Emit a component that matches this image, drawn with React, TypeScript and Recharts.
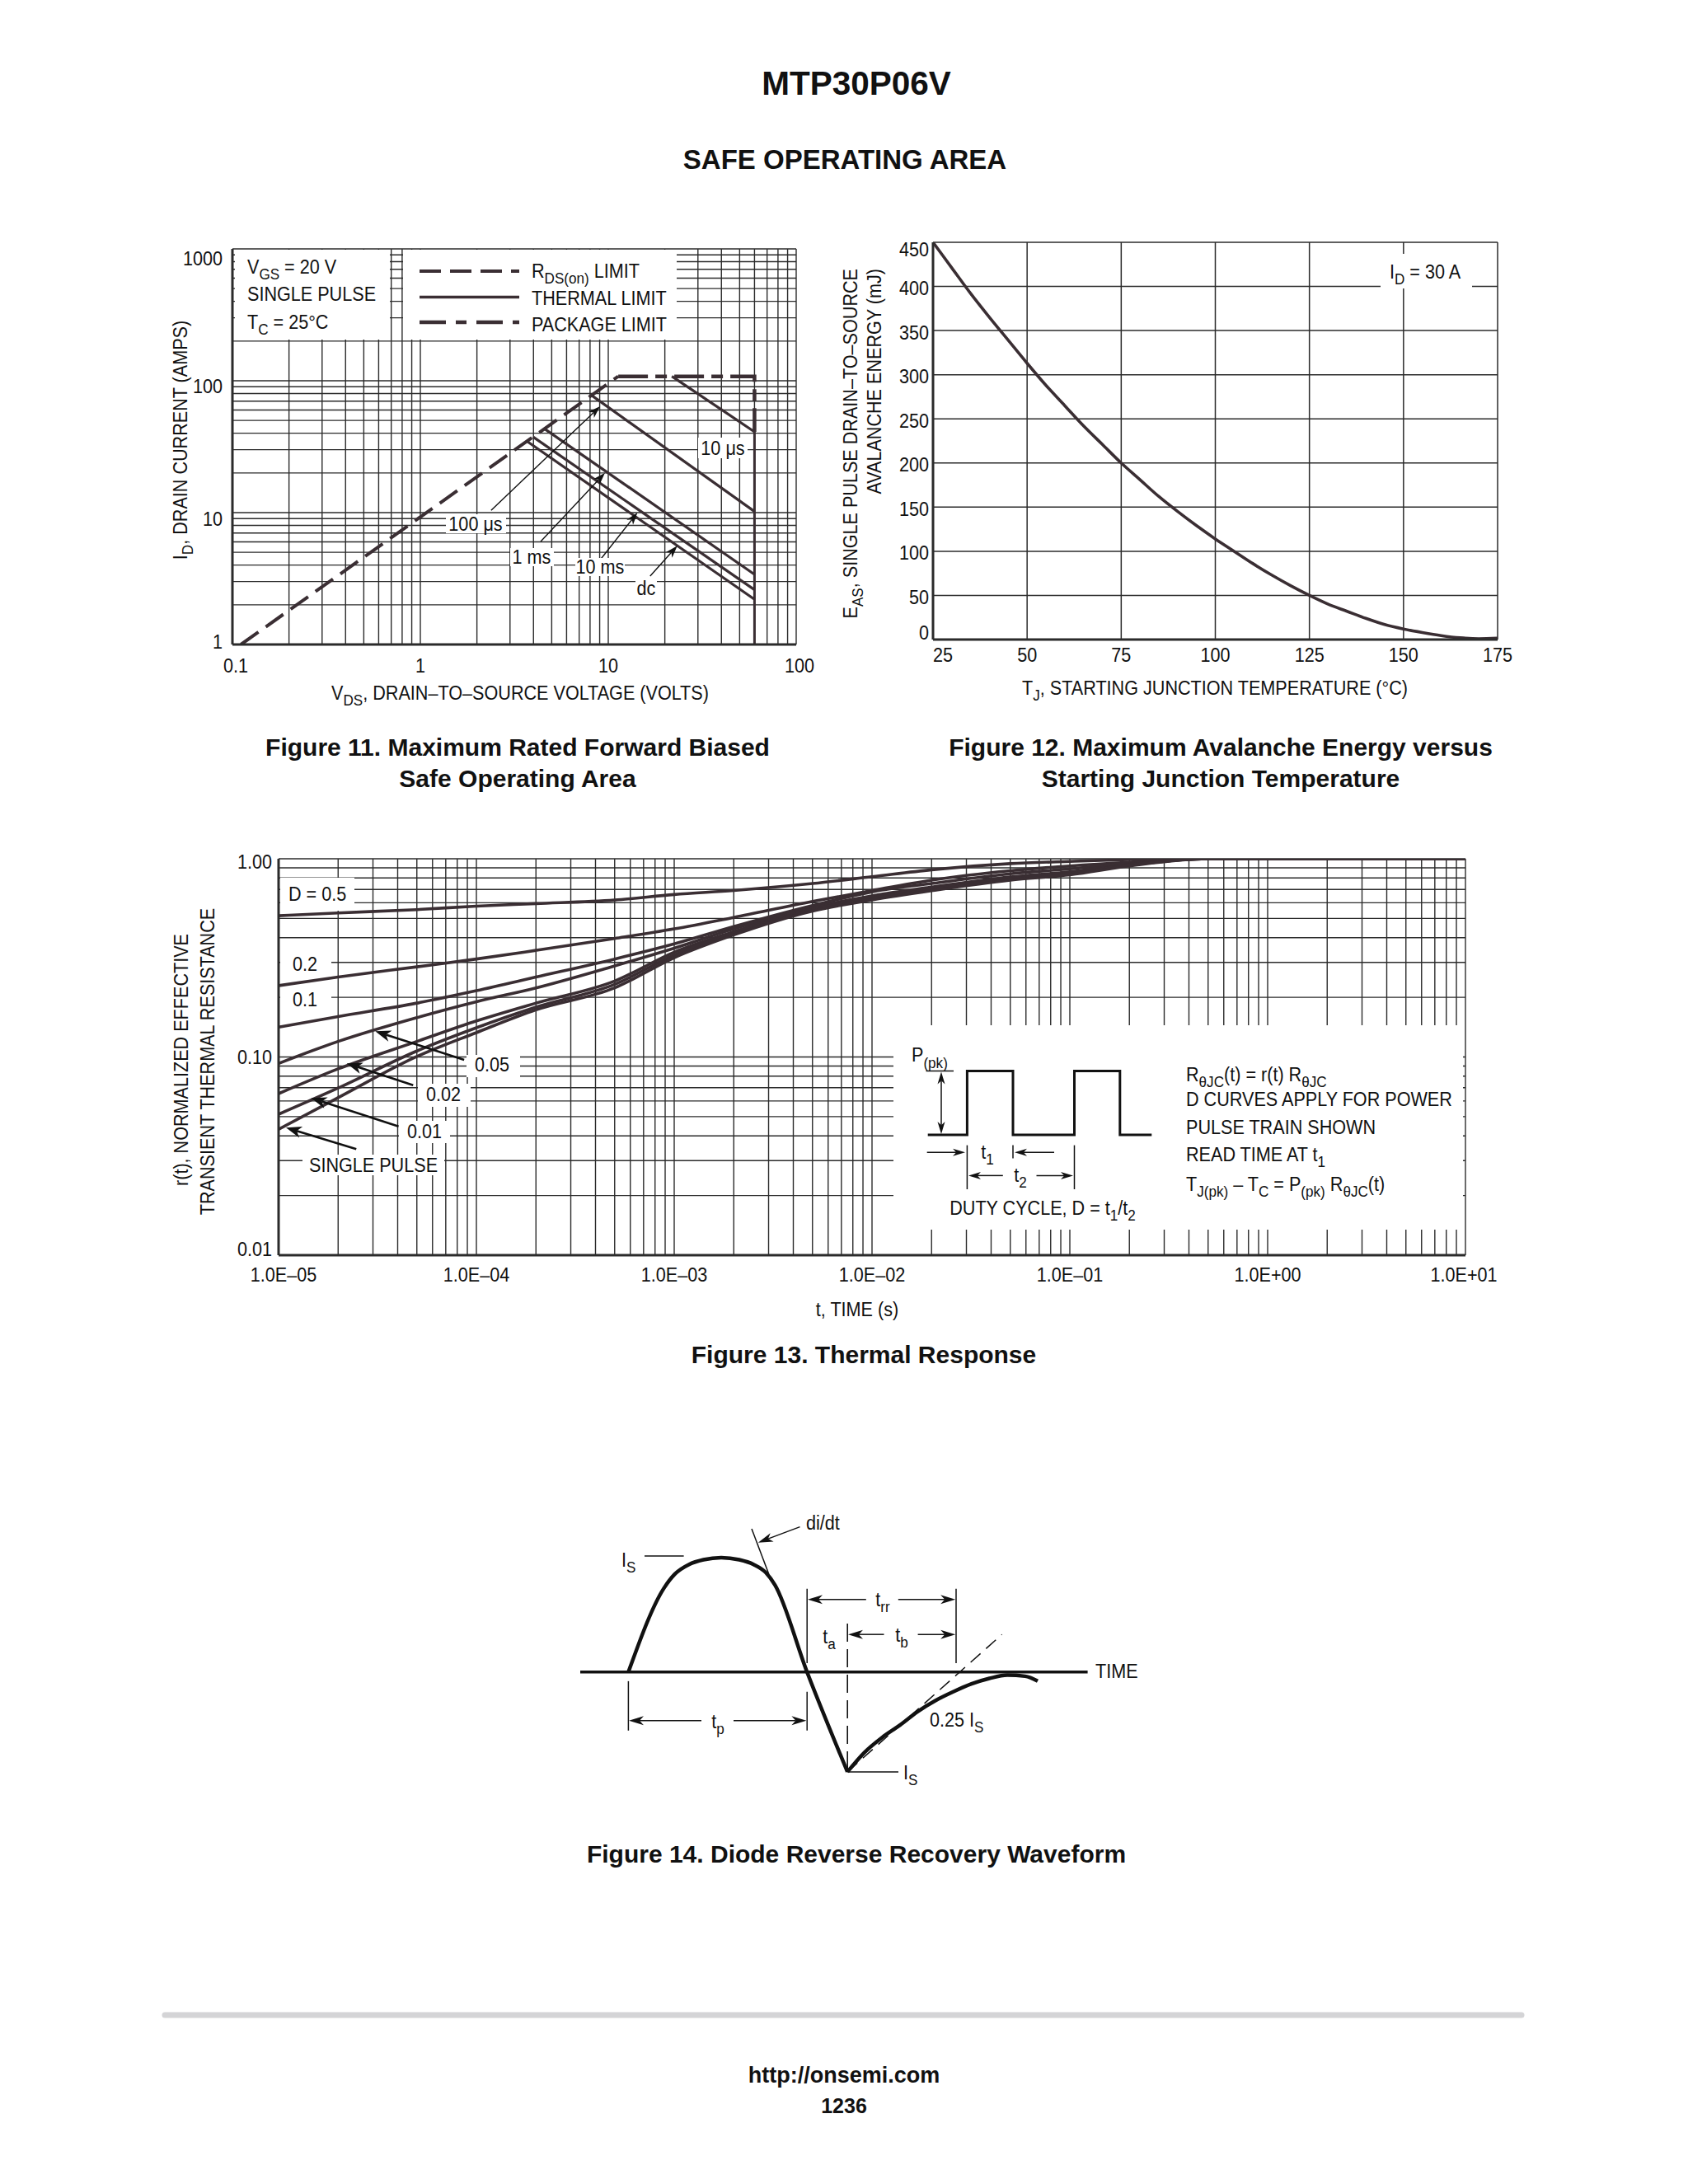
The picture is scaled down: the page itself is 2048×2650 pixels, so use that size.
import React from 'react';
import { LineChart, Line, XAxis, YAxis, ReferenceLine } from 'recharts';

const FONT = '"Liberation Sans", Arial, Helvetica, sans-serif';
const SX = 0.9; // datasheet type is a condensed grotesque
const INK = '#3a2e33';
const GRID = '#2b2b2b';
const TXT = '#111';

// ═══ Figure 11 — forward biased safe operating area ═══
const SOA_V_TICKS = [0.1, 1, 10, 100];
const SOA_V_LABELS = ['0.1', '1', '10', '100'];
const SOA_I_TICKS = [1, 10, 100, 1000];
const SOA_I_LABELS = ['1', '10', '100', '1000'];

const RDS_V = [0.111, 11.3];
const RDS_I = [1, 108];
const PKG_V = [11.3, 60, 60];
const PKG_I = [108, 108, 41];
const BV_V = [60, 60];
const BV_I = [41, 1];
const US10_V = [21.8, 60];
const US10_I = [108, 41];
const US100_V = [8.2, 60];
const US100_I = [77, 10.2];
const MS1_V = [4.55, 60];
const MS1_I = [43.5, 3.4];
const MS10_V = [3.98, 60];
const MS10_I = [37.5, 2.6];
const DC_V = [3.67, 60];
const DC_I = [35, 2.2];

const SOA_ARROWS = [
  { from: [2.38, 10.4], to: [9.05, 64] }, // 100 µs
  { from: [4.37, 6.04], to: [9.6, 20] }, // 1 ms
  { from: [9.15, 4.47], to: [14.3, 10] }, // 10 ms
  { from: [16.7, 3.3], to: [23.3, 5.6] }, // dc
];

// ═══ Figure 12 — avalanche energy ═══
const TJ = [25, 30, 35, 40, 45, 50, 55, 60, 65, 70, 75, 80, 85, 90, 95, 100, 105, 110, 115, 120, 125, 130, 135, 140, 145, 150, 155, 160, 165, 170, 175];
const EAS = [450, 421, 392, 365, 339, 313, 288, 265, 242, 221, 200, 181, 162, 145, 129, 114, 100, 86, 73, 61, 50, 40, 32, 24, 17, 12, 8, 4.5, 2, 1, 1.5];
const TJ_TICKS = [25, 50, 75, 100, 125, 150, 175];
const EAS_TICKS = [0, 50, 100, 150, 200, 250, 300, 350, 400, 450];

// ═══ Figure 13 — thermal response ═══
const T_S = [1e-5, 2e-5, 5e-5, 1e-4, 2e-4, 5e-4, 1e-3, 2e-3, 5e-3, 1e-2, 2e-2, 5e-2, 1e-1, 2e-1, 5e-1, 1, 10];
const R_D50 = [0.516, 0.533, 0.554, 0.577, 0.594, 0.619, 0.66, 0.692, 0.75, 0.812, 0.88, 0.945, 0.97, 0.99, 1, 1, 1];
const R_D20 = [0.229, 0.253, 0.285, 0.312, 0.345, 0.396, 0.443, 0.506, 0.609, 0.692, 0.78, 0.87, 0.92, 0.96, 1, 1, 1];
const R_D10 = [0.1415, 0.16, 0.187, 0.216, 0.253, 0.312, 0.372, 0.455, 0.581, 0.681, 0.75, 0.84, 0.89, 0.95, 1, 1, 1];
const R_D05 = [0.0928, 0.1198, 0.158, 0.19, 0.223, 0.288, 0.354, 0.443, 0.568, 0.65, 0.72, 0.81, 0.86, 0.94, 1, 1, 1];
const R_D02 = [0.0653, 0.0871, 0.1198, 0.152, 0.187, 0.2416, 0.338, 0.429, 0.563, 0.64, 0.71, 0.8, 0.85, 0.93, 1, 1, 1];
const R_D01 = [0.0514, 0.0697, 0.1072, 0.1405, 0.1785, 0.2326, 0.327, 0.422, 0.554, 0.63, 0.7, 0.79, 0.84, 0.93, 1, 1, 1];
const R_SP = [0.0432, 0.0623, 0.1005, 0.1327, 0.1729, 0.2232, 0.317, 0.413, 0.545, 0.62, 0.69, 0.78, 0.83, 0.92, 1, 1, 1];
const TH_T_TICKS = [1e-5, 1e-4, 1e-3, 1e-2, 1e-1, 1, 10];
const TH_T_LABELS = ['1.0E–05', '1.0E–04', '1.0E–03', '1.0E–02', '1.0E–01', '1.0E+00', '1.0E+01'];
const TH_R_TICKS = [0.01, 0.1, 1];
const TH_R_LABELS = ['0.01', '0.10', '1.00'];

const TH_ARROWS = [
  { from: [8.67e-5, 0.0968], to: [3.08e-5, 0.1349] }, // 0.05
  { from: [4.79e-5, 0.072], to: [2.21e-5, 0.0929] }, // 0.02
  { from: [4.04e-5, 0.0446], to: [1.46e-5, 0.0621] }, // 0.01
  { from: [2.47e-5, 0.0343], to: [1.09e-5, 0.044] }, // single pulse
];

// ═══ Figure 14 — diode reverse recovery (schematic units) ═══
const WAVE_T = [6.24, 10.58, 11.88, 13.61, 15.35, 17.51, 19.68, 21.42, 22.93, 24.02, 27.92, 32.82];
const WAVE_I = [0, 0.735, 0.855, 0.939, 0.98, 0.999, 0.98, 0.939, 0.867, 0.76, 0, -0.87];
const RECOV_T = [32.82, 34.86, 37.03, 39.2, 41.36, 43.53, 45.7, 47.87, 50.04, 52.21, 54.37, 55.9];
const RECOV_I = [-0.87, -0.702, -0.57, -0.462, -0.343, -0.247, -0.17, -0.103, -0.055, -0.026, -0.036, -0.079];

function logGrid(lo: number, hi: number) {
  const out: number[] = [];
  for (let e = lo; e < hi; e++) for (let m = 1; m < 10; m++) out.push(Number((m * Math.pow(10, e)).toPrecision(6)));
  out.push(Math.pow(10, hi));
  return out;
}

function ArrowShape(props: any) {
  const { x1, y1, x2, y2, stroke = TXT, strokeWidth = 1.5, head = 16, half = 5 } = props;
  const dx = x2 - x1, dy = y2 - y1;
  const len = Math.hypot(dx, dy) || 1;
  const ux = dx / len, uy = dy / len;
  const bx = x2 - ux * head, by = y2 - uy * head;
  const nx = x2 - ux * head * 0.72, ny = y2 - uy * head * 0.72;
  return (
    <g>
      <line x1={x1} y1={y1} x2={nx} y2={ny} stroke={stroke} strokeWidth={strokeWidth} />
      <polygon points={`${x2},${y2} ${bx - uy * half},${by + ux * half} ${nx},${ny} ${bx + uy * half},${by - ux * half}`} fill={stroke} />
    </g>
  );
}

function tickRenderer(ticks: number[], labels: string[], anchor: 'middle' | 'end', dy: (i: number) => number, dx: (i: number) => number = () => 0) {
  return (p: any) => {
    const v = p.payload.value;
    let i = ticks.indexOf(v);
    if (i < 0) i = ticks.findIndex(t => Math.abs(t - v) <= Math.abs(t) * 1e-6);
    if (i < 0) return null;
    return (
      <g transform={`translate(${p.x + dx(i)},${p.y + dy(i)})`}>
        <text transform={`scale(${SX},1)`} textAnchor={anchor} fontSize={24} fontFamily={FONT} fill={TXT}>{labels[i]}</text>
      </g>
    );
  };
}

const axisLine = { stroke: GRID, strokeWidth: 3 };

function SoaChart() {
  const pts = (vs: number[], is: number[]) => vs.map((v, k) => ({ v, i: is[k] }));
  const lineProps = { dataKey: 'i', type: 'linear' as const, stroke: INK, dot: false, isAnimationActive: false };
  return (
    <div style={{ position: 'absolute', left: 150, top: 280 }}>
      <LineChart width={850} height={600} margin={{ top: 22, right: 34, bottom: 58, left: 72 }}>
        <XAxis dataKey="v" type="number" scale="log" domain={[0.1, 100]} allowDataOverflow ticks={SOA_V_TICKS} interval={0}
          height={40} tickSize={0} tickMargin={0} tickLine={false} axisLine={axisLine}
          tick={tickRenderer(SOA_V_TICKS, SOA_V_LABELS, 'middle', () => 34, i => (i === 0 || i === 3 ? 4 : 0))} />
        <YAxis type="number" scale="log" domain={[1, 1000]} allowDataOverflow ticks={SOA_I_TICKS} interval={0}
          width={60} tickSize={0} tickMargin={12} tickLine={false} axisLine={axisLine}
          tick={tickRenderer(SOA_I_TICKS, SOA_I_LABELS, 'end', i => [-3, 8, 7, 12][i] + 8.4)} />
        {logGrid(-1, 2).map(v => <ReferenceLine key={'gx' + v} x={v} stroke={GRID} strokeWidth={1.4} ifOverflow="visible" />)}
        {logGrid(0, 3).map(v => <ReferenceLine key={'gy' + v} y={v} stroke={GRID} strokeWidth={1.4} ifOverflow="visible" />)}
        <Line {...lineProps} data={pts(RDS_V, RDS_I)} strokeWidth={4} strokeDasharray="26 11" />
        <Line {...lineProps} data={pts(PKG_V, PKG_I)} strokeWidth={4.5} strokeDasharray="36 9 14 9" />
        <Line {...lineProps} data={pts(BV_V, BV_I)} strokeWidth={3} />
        <Line {...lineProps} data={pts(US10_V, US10_I)} strokeWidth={3.2} />
        <Line {...lineProps} data={pts(US100_V, US100_I)} strokeWidth={3.2} />
        <Line {...lineProps} data={pts(MS1_V, MS1_I)} strokeWidth={3.2} />
        <Line {...lineProps} data={pts(MS10_V, MS10_I)} strokeWidth={3.2} />
        <Line {...lineProps} data={pts(DC_V, DC_I)} strokeWidth={3.2} />
        {SOA_ARROWS.map((a, k) => (
          <ReferenceLine key={'a' + k} segment={[{ x: a.from[0], y: a.from[1] }, { x: a.to[0], y: a.to[1] }]}
            stroke={TXT} strokeWidth={1.4} ifOverflow="visible" shape={(p: any) => <ArrowShape {...p} head={15} half={5} />} />
        ))}
      </LineChart>
    </div>
  );
}

function AvalancheChart() {
  const data = TJ.map((t, k) => ({ t, e: EAS[k] }));
  return (
    <div style={{ position: 'absolute', left: 1000, top: 270 }}>
      <LineChart width={850} height={600} data={data} margin={{ top: 24, right: 33, bottom: 54, left: 72 }}>
        <XAxis dataKey="t" type="number" domain={[25, 175]} allowDataOverflow ticks={TJ_TICKS} interval={0}
          height={40} tickSize={0} tickMargin={0} tickLine={false} axisLine={axisLine}
          tick={tickRenderer(TJ_TICKS, TJ_TICKS.map(String), 'middle', () => 27.4, i => (i === 0 ? 12 : 0))} />
        <YAxis type="number" domain={[0, 450]} allowDataOverflow ticks={EAS_TICKS} interval={0}
          width={60} tickSize={0} tickMargin={5} tickLine={false} axisLine={axisLine}
          tick={tickRenderer(EAS_TICKS, EAS_TICKS.map(String), 'end', i => (i === 0 ? -8 : i === 9 ? 9 : 2) + 8.4)} />
        {TJ_TICKS.map(v => <ReferenceLine key={'gx' + v} x={v} stroke={GRID} strokeWidth={1.5} ifOverflow="visible" />)}
        {EAS_TICKS.map(v => <ReferenceLine key={'gy' + v} y={v} stroke={GRID} strokeWidth={1.5} ifOverflow="visible" />)}
        <Line dataKey="e" type="monotone" stroke={INK} strokeWidth={3.6} dot={false} isAnimationActive={false} />
      </LineChart>
    </div>
  );
}

function ThermalChart() {
  const pts = (rs: number[]) => T_S.map((t, k) => ({ t, r: rs[k] }));
  const curves = [R_D50, R_D20, R_D10, R_D05, R_D02, R_D01, R_SP];
  return (
    <div style={{ position: 'absolute', left: 180, top: 1010 }}>
      <LineChart width={1650} height={600} margin={{ top: 32, right: 52, bottom: 47, left: 78 }}>
        <XAxis dataKey="t" type="number" scale="log" domain={[1e-5, 10]} allowDataOverflow ticks={TH_T_TICKS} interval={0}
          height={40} tickSize={0} tickMargin={0} tickLine={false} axisLine={axisLine}
          tick={tickRenderer(TH_T_TICKS, TH_T_LABELS, 'middle', () => 32.4, i => (i === 0 ? 6 : i === 6 ? -2 : 0))} />
        <YAxis type="number" scale="log" domain={[0.01, 1]} allowDataOverflow ticks={TH_R_TICKS} interval={0}
          width={80} tickSize={0} tickMargin={8} tickLine={false} axisLine={axisLine}
          tick={tickRenderer(TH_R_TICKS, TH_R_LABELS, 'end', i => [-7, 0, 4][i] + 8.4)} />
        {logGrid(-5, 1).map(v => <ReferenceLine key={'gx' + v} x={v} stroke={GRID} strokeWidth={1.4} ifOverflow="visible" />)}
        {logGrid(-2, 0).map(v => <ReferenceLine key={'gy' + v} y={v} stroke={GRID} strokeWidth={1.4} ifOverflow="visible" />)}
        {curves.map((rs, k) => (
          <Line key={'c' + k} data={pts(rs)} dataKey="r" type="monotone" stroke={INK} strokeWidth={3.6} dot={false} isAnimationActive={false} />
        ))}
        {TH_ARROWS.map((a, k) => (
          <ReferenceLine key={'a' + k} segment={[{ x: a.from[0], y: a.from[1] }, { x: a.to[0], y: a.to[1] }]}
            stroke={TXT} strokeWidth={2.6} ifOverflow="visible" shape={(p: any) => <ArrowShape {...p} head={19} half={7} />} />
        ))}
      </LineChart>
    </div>
  );
}

function RecoveryChart() {
  const wave = WAVE_T.map((t, k) => ({ t, i: WAVE_I[k] }));
  const recov = RECOV_T.map((t, k) => ({ t, i: RECOV_I[k] }));
  const seg = (k: string, a: number[], b: number[], extra: any = {}) => (
    <ReferenceLine key={k} segment={[{ x: a[0], y: a[1] }, { x: b[0], y: b[1] }]} stroke={TXT} strokeWidth={1.5} ifOverflow="visible" {...extra} />
  );
  const arrow = (k: string, a: number[], b: number[]) =>
    seg(k, a, b, { shape: (p: any) => <ArrowShape {...p} head={18} half={5.5} /> });
  return (
    <div style={{ position: 'absolute', left: 690, top: 1830 }}>
      <LineChart width={650} height={360} margin={{ top: 18, right: 20, bottom: 22, left: 10 }}>
        <XAxis dataKey="t" type="number" domain={[0, 62]} allowDataOverflow hide />
        <YAxis type="number" domain={[-1, 1.3]} allowDataOverflow hide />
        {seg('axis', [0.4, 0], [61.96, 0], { strokeWidth: 3.5 })}
        {seg('didt', [21.2, 1.25], [23.28, 0.855])}
        {seg('tan', [32.82, -0.87], [51.56, 0.328], { strokeDasharray: '16 9' })}
        {seg('ta', [32.82, 0.424], [32.82, -0.87], { strokeDasharray: '22 9', strokeWidth: 1.6 })}
        {seg('isTop', [8.2, 1.013], [12.96, 1.013])}
        {seg('isBot', [32.82, -0.87], [39, -0.87])}
        {seg('v1', [27.92, 0.726], [27.92, 0.079])}
        {seg('v2', [27.92, -0.1725], [27.92, -0.51])}
        {seg('v3', [6.24, -0.079], [6.24, -0.51])}
        {seg('v4', [46.0, 0.726], [46.0, 0.079])}
        {arrow('trrL', [35.08, 0.6325], [28.0, 0.6325])}
        {arrow('trrR', [38.98, 0.6325], [45.92, 0.6325])}
        {arrow('tbL', [37.25, 0.3285], [32.9, 0.3285])}
        {arrow('tbR', [41.36, 0.3285], [45.92, 0.3285])}
        {arrow('tpL', [15.1, -0.424], [6.3, -0.424])}
        {arrow('tpR', [19.0, -0.424], [27.84, -0.424])}
        {arrow('didtA', [27.05, 1.267], [21.98, 1.13])}
        <Line data={wave} dataKey="i" type="monotone" stroke={TXT} strokeWidth={4.5} dot={false} isAnimationActive={false} />
        <Line data={recov} dataKey="i" type="monotone" stroke={TXT} strokeWidth={4.5} dot={false} isAnimationActive={false} />
      </LineChart>
    </div>
  );
}

// condensed text, (x, y) is the vertical centre of the line
function T({ x, y, size = 24, anchor = 'start', rot = false, bold = false, sx = SX, children }: any) {
  const base = 0.35 * size;
  const tr = rot
    ? `translate(${x + base} ${y}) rotate(-90) scale(${sx} 1)`
    : `translate(${x} ${y + base}) scale(${sx} 1)`;
  return (
    <text transform={tr} textAnchor={anchor} fontSize={size} fontFamily={FONT} fontWeight={bold ? 700 : 400} fill={TXT}>
      {children}
    </text>
  );
}
const S = ({ s, d = 7, size = 19 }: any) => <tspan fontSize={size} dy={d}>{s}</tspan>;
const R = ({ s, d = 7 }: any) => <tspan dy={-d}>{s}</tspan>;

const BOXES = [
  [285, 303, 188, 109], [489, 303, 332, 109], [847, 531, 60, 25], [541, 624, 73, 23], [619, 665, 53, 22],
  [698, 677, 60, 22], [771, 704, 26, 21], [1675, 308, 111, 42],
  [340, 1065, 90, 40], [340, 1155, 62, 30], [340, 1202, 62, 26], [566, 1280, 65, 27], [507, 1315, 64, 28],
  [484, 1360, 62, 27], [367, 1401, 172, 25], [1084, 1244, 691, 248],
];

function Overlay() {
  const ln = (x1: number, y1: number, x2: number, y2: number, w = 1.5) => (
    <line x1={x1} y1={y1} x2={x2} y2={y2} stroke={TXT} strokeWidth={w} />
  );
  return (
    <svg width={2048} height={2650} style={{ position: 'absolute', left: 0, top: 0 }}>
      {BOXES.map((b, k) => <rect key={k} x={b[0]} y={b[1]} width={b[2]} height={b[3]} fill="#fff" />)}

      <T x={1039} y={101} size={40.5} bold sx={1} anchor="middle">MTP30P06V</T>
      <T x={1025} y={193} size={33} bold sx={1} anchor="middle">SAFE OPERATING AREA</T>

      {/* Figure 11 */}
      <T x={300} y={324}>V<S s="GS" /><R s=" = 20 V" /></T>
      <T x={300} y={357}>SINGLE PULSE</T>
      <T x={300} y={391}>T<S s="C" /><R s=" = 25°C" /></T>
      <line x1={509} y1={329} x2={630} y2={329} stroke={INK} strokeWidth={4} strokeDasharray="26 11" />
      <line x1={509} y1={360.5} x2={630} y2={360.5} stroke={INK} strokeWidth={3.5} />
      <line x1={509} y1={391} x2={630} y2={391} stroke={INK} strokeWidth={4.5} strokeDasharray="32 12 13 12" />
      <T x={645} y={329}>R<S s="DS(on)" /><R s=" LIMIT" /></T>
      <T x={645} y={362}>THERMAL LIMIT</T>
      <T x={645} y={394}>PACKAGE LIMIT</T>
      <T x={877} y={544} anchor="middle">10 μs</T>
      <T x={577} y={636} anchor="middle">100 μs</T>
      <T x={645} y={676} anchor="middle">1 ms</T>
      <T x={728} y={688} anchor="middle">10 ms</T>
      <T x={784} y={714} anchor="middle">dc</T>
      <T x={219} y={534} rot anchor="middle">I<S s="D" /><R s=", DRAIN CURRENT (AMPS)" /></T>
      <T x={631} y={841} anchor="middle">V<S s="DS" /><R s=", DRAIN–TO–SOURCE VOLTAGE (VOLTS)" /></T>
      <T x={628} y={906} size={30} bold sx={1} anchor="middle">Figure 11. Maximum Rated Forward Biased</T>
      <T x={628} y={944} size={30} bold sx={1} anchor="middle">Safe Operating Area</T>

      {/* Figure 12 */}
      <T x={1686} y={330}>I<S s="D" /><R s=" = 30 A" /></T>
      <T x={1032} y={326} rot anchor="end">E<S s="AS" /><R s=", SINGLE PULSE DRAIN–TO–SOURCE" /></T>
      <T x={1061} y={326} rot anchor="end">AVALANCHE ENERGY (mJ)</T>
      <T x={1474} y={835} anchor="middle">T<S s="J" /><R s=", STARTING JUNCTION TEMPERATURE (°C)" /></T>
      <T x={1481} y={906} size={30} bold sx={1} anchor="middle">Figure 12. Maximum Avalanche Energy versus</T>
      <T x={1481} y={944} size={30} bold sx={1} anchor="middle">Starting Junction Temperature</T>

      {/* Figure 13 */}
      <T x={350} y={1085}>D = 0.5</T>
      <T x={355} y={1170}>0.2</T>
      <T x={355} y={1213}>0.1</T>
      <T x={576} y={1292}>0.05</T>
      <T x={517} y={1328}>0.02</T>
      <T x={494} y={1373}>0.01</T>
      <T x={375} y={1414}>SINGLE PULSE</T>
      <T x={220} y={1286} rot anchor="middle">r(t), NORMALIZED EFFECTIVE</T>
      <T x={252} y={1288} rot anchor="middle">TRANSIENT THERMAL RESISTANCE</T>
      <T x={1040} y={1589} anchor="middle">t, TIME (s)</T>
      <T x={1048} y={1643} size={30} bold sx={1} anchor="middle">Figure 13. Thermal Response</T>

      {/* duty-cycle inset */}
      <path d="M1125.7 1377 H1173.4 V1299.4 H1229 V1377 H1303.5 V1299.4 H1358.8 V1377 H1397.3" stroke={TXT} strokeWidth={3} fill="none" />
      {ln(1123.6, 1299.4, 1157, 1299.4)}
      <ArrowShape x1={1142} y1={1338} x2={1142} y2={1300.5} head={15} half={4.5} />
      <ArrowShape x1={1142} y1={1338} x2={1142} y2={1376} head={15} half={4.5} />
      <ArrowShape x1={1124.7} y1={1398.3} x2={1171} y2={1398.3} head={15} half={4.5} />
      <ArrowShape x1={1279} y1={1398.3} x2={1231} y2={1398.3} head={15} half={4.5} />
      {ln(1173.4, 1389.6, 1173.4, 1443)}
      {ln(1229, 1389.6, 1229, 1405.5)}
      {ln(1303.5, 1389.6, 1303.5, 1443)}
      <ArrowShape x1={1216.8} y1={1426.4} x2={1175} y2={1426.4} head={15} half={4.5} />
      <ArrowShape x1={1257.5} y1={1426.4} x2={1302} y2={1426.4} head={15} half={4.5} />
      <T x={1106} y={1280}>P<S s="(pk)" d={8} /></T>
      <T x={1198} y={1398} anchor="middle">t<S s="1" /></T>
      <T x={1238} y={1426} anchor="middle">t<S s="2" /></T>
      <T x={1265} y={1466} anchor="middle">DUTY CYCLE, D = t<S s="1" /><R s="/t" /><S s="2" /></T>
      <T x={1439} y={1304}>R<S s="θJC" /><R s="(t) = r(t) R" /><S s="θJC" /></T>
      <T x={1439} y={1334}>D CURVES APPLY FOR POWER</T>
      <T x={1439} y={1368}>PULSE TRAIN SHOWN</T>
      <T x={1439} y={1401}>READ TIME AT t<S s="1" /></T>
      <T x={1439} y={1437}>T<S s="J(pk)" /><R s=" – T" /><S s="C" /><R s=" = P" /><S s="(pk)" /><R s=" R" /><S s="θJC" /><R s="(t)" /></T>

      {/* Figure 14 */}
      <T x={754} y={1893}>I<S s="S" /></T>
      <T x={978} y={1848}>di/dt</T>
      <T x={1071} y={1941} anchor="middle">t<S s="rr" /></T>
      <T x={1006} y={1986} anchor="middle">t<S s="a" /></T>
      <T x={1094} y={1984} anchor="middle">t<S s="b" /></T>
      <T x={871} y={2089} anchor="middle">t<S s="p" /></T>
      <T x={1128} y={2087}>0.25 I<S s="S" /></T>
      <T x={1096} y={2151}>I<S s="S" /></T>
      <T x={1329} y={2028}>TIME</T>
      <T x={1039} y={2249} size={30} bold sx={1} anchor="middle">Figure 14. Diode Reverse Recovery Waveform</T>

      {/* footer */}
      <line x1={200} y1={2445} x2={1846} y2={2445} stroke="#d4d4d6" strokeWidth={7} strokeLinecap="round" />
      <T x={1024} y={2518} size={27} bold sx={1} anchor="middle">http://onsemi.com</T>
      <T x={1024} y={2555} size={25} bold sx={1} anchor="middle">1236</T>
    </svg>
  );
}

export default function App() {
  return (
    <div style={{ position: 'absolute', left: 0, top: 0, width: 2048, height: 2650, background: '#fff', overflow: 'hidden' }}>
      <SoaChart />
      <AvalancheChart />
      <ThermalChart />
      <RecoveryChart />
      <Overlay />
    </div>
  );
}
